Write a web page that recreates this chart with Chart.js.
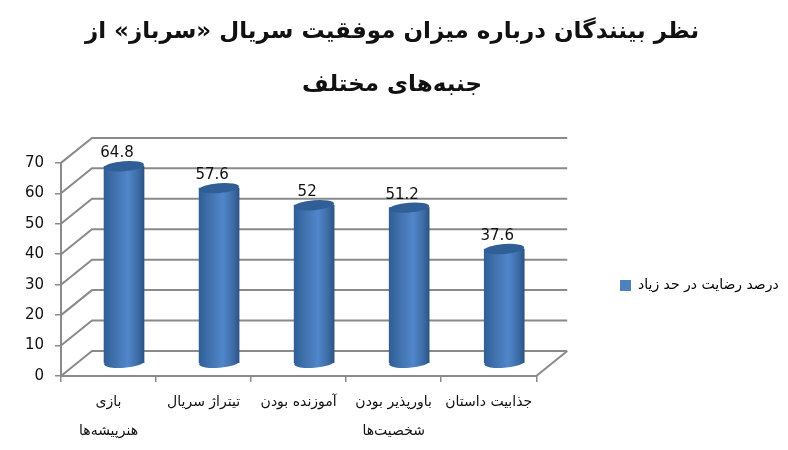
<!DOCTYPE html>
<html lang="fa">
<head>
<meta charset="utf-8">
<style>html,body{margin:0;padding:0;background:#fff}canvas{display:block}</style>
<script src="https://cdn.jsdelivr.net/npm/chart.js@4"></script>
</head>
<body>
<canvas id="c" width="788" height="450"></canvas>
<script>
const titleLines = ['نظر بینندگان درباره میزان موفقیت سریال «سرباز» از', 'جنبه‌های مختلف'];
const categories = [['بازی', 'هنرپیشه‌ها'], 'تیتراژ سریال', 'آموزنده بودن', ['باورپذیر بودن', 'شخصیت‌ها'], 'جذابیت داستان'];
const seriesName = 'درصد رضایت در حد زیاد';
const values = [64.8, 57.6, 52, 51.2, 37.6];
const yTicks = [0, 10, 20, 30, 40, 50, 60, 70];

const FONT = '"DejaVu Sans", sans-serif';
const GRID = '#8a8a8a';
const BAR_W = 40;
const WALL = {dx: 31, dy: -25};   // back wall offset
const MID = {dx: 15.5, dy: -12.5}; // bars stand half way in

function barFill(ctx) {
  const x = ctx.chart.scales.x;
  if (!x || ctx.dataIndex === undefined) return '#4f81bd';
  const cx = x.getPixelForValue(ctx.dataIndex);
  const g = ctx.chart.ctx.createLinearGradient(cx - BAR_W / 2, 0, cx + BAR_W / 2, 0);
  g.addColorStop(0, '#305f96');
  g.addColorStop(0.3, '#4374b0');
  g.addColorStop(0.6, '#5086cb');
  g.addColorStop(0.85, '#3d6ca6');
  g.addColorStop(1, '#2b5484');
  return g;
}

function ellipse(c, x, y, fill) {
  c.beginPath();
  c.ellipse(x, y, BAR_W / 2, 5, -4.5 * Math.PI / 180, 0, Math.PI * 2);
  c.fillStyle = fill;
  c.fill();
}

// 3d box walls and the cylinder caps
const cylinder = {
  id: 'cylinder',
  afterLayout(chart) {
    // legend sits lower than the plot middle and right of the reserved gap
    const lg = chart.legend;
    const d = 610 - lg.left;
    lg.left += d; lg.right += d;
    lg.top += 16; lg.bottom += 16;
    // title centres on the whole canvas, not on the padded width
    const tb = chart.titleBlock;
    const t = 392 - (tb.left + tb.right) / 2;
    tb.left += t; tb.right += t;
  },
  beforeDatasetsDraw(chart) {
    const c = chart.ctx, {y} = chart.scales, a = chart.chartArea;
    c.save();
    c.strokeStyle = GRID;
    c.lineWidth = 2;
    yTicks.forEach(t => {
      const py = y.getPixelForValue(t);
      c.beginPath();
      c.moveTo(a.left, py);
      c.lineTo(a.left + WALL.dx, py + WALL.dy);
      c.lineTo(a.right + WALL.dx, py + WALL.dy);
      c.stroke();
    });
    const y0 = y.getPixelForValue(0);
    c.beginPath();
    c.moveTo(a.right, y0);
    c.lineTo(a.right + WALL.dx, y0 + WALL.dy);
    c.stroke();
    c.restore();

    c.save();
    c.translate(MID.dx, MID.dy);
    chart.getDatasetMeta(0).data.forEach((el, i) => {
      ellipse(c, el.x, el.base, barFill({chart, dataIndex: i}));
    });
  },
  afterDatasetsDraw(chart) {
    const c = chart.ctx;
    chart.getDatasetMeta(0).data.forEach((el, i) => {
      ellipse(c, el.x, el.y, '#2f5f96');
      c.font = '15px ' + FONT;
      c.fillStyle = '#111';
      c.textAlign = 'center';
      c.textBaseline = 'middle';
      c.fillText(String(values[i]), el.x - 7, el.y - 13);
    });
    c.restore();
  }
};

new Chart(document.getElementById('c'), {
  type: 'bar',
  plugins: [cylinder],
  data: {
    labels: categories,
    datasets: [{label: seriesName, data: values, backgroundColor: barFill, barThickness: BAR_W, clip: false}]
  },
  options: {
    responsive: false,
    animation: false,
    layout: {padding: {left: 0, right: 73, top: 6, bottom: 0}},
    scales: {
      x: {
        afterFit: s => { s.height = 74; },
        border: {color: GRID, width: 2},
        grid: {drawOnChartArea: false, color: GRID, tickLength: 6, lineWidth: 1.5},
        ticks: {color: '#111', font: {family: FONT, size: 14, lineHeight: 2.07}, padding: 6, maxRotation: 0, autoSkip: false}
      },
      y: {
        min: 0, max: 70,
        afterFit: s => { s.width = 61; },
        afterBuildTicks: s => { s.ticks = yTicks.map(v => ({value: v})); },
        border: {color: GRID, width: 2},
        grid: {drawOnChartArea: false, color: GRID, tickLength: 6, lineWidth: 1.5},
        ticks: {color: '#111', font: {family: FONT, size: 15}, padding: 11}
      }
    },
    plugins: {
      tooltip: {enabled: false},
      title: {
        display: true,
        text: titleLines,
        color: '#111',
        font: {family: FONT, size: 23, weight: 'bold', lineHeight: 2.28},
        padding: {top: 0, bottom: 52}
      },
      legend: {
        position: 'right',
        fullSize: false,
        labels: {
          color: '#111',
          boxWidth: 11, boxHeight: 11,
          font: {family: FONT, size: 14},
          generateLabels: ch => [{text: seriesName, fillStyle: '#4f81bd', strokeStyle: '#4f81bd', lineWidth: 0, datasetIndex: 0}]
        }
      }
    }
  }
});
</script>
</body>
</html>
